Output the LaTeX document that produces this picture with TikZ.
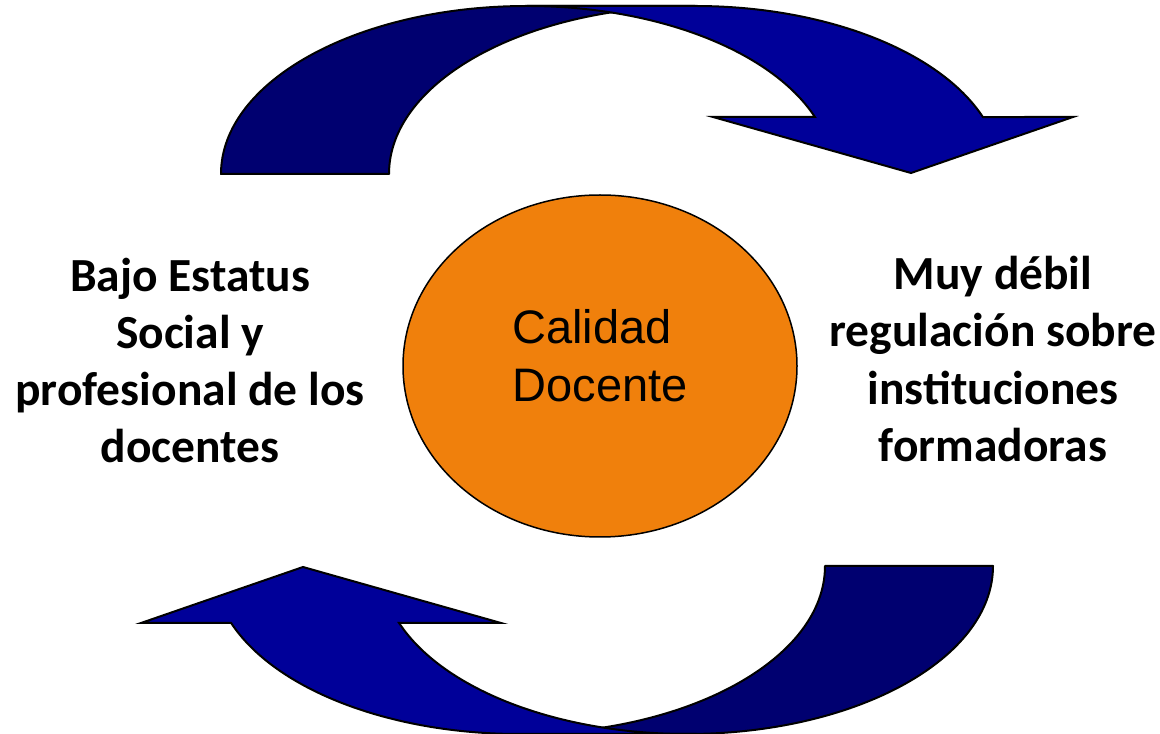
\documentclass[tikz,border=0pt]{standalone}
\usepackage{fontspec}
\setmainfont{Liberation Sans}
\newfontfamily\calfont{Carlito}
\usetikzlibrary{shapes.geometric}
\definecolor{backblue}{RGB}{0,0,112}
\definecolor{frontblue}{RGB}{0,0,153}
\definecolor{coreorange}{RGB}{240,128,12}
\tikzset{
  backband/.style={fill=backblue,draw=black,line width=2pt,line join=round},
  frontband/.style={fill=frontblue,draw=black,line width=2pt,line join=miter},
  sidetext/.style={align=center,inner sep=0pt,font=\calfont\bfseries\fontsize{47.5}{57.3}\selectfont},
  coreshape/.style={ellipse,draw=black,line width=1.5pt,fill=coreorange,minimum width=394pt,minimum height=342pt,inner sep=0pt},
  coretext/.style={align=left,inner sep=0pt,font=\fontsize{47}{58}\selectfont}
}
\newcommand{\curvedarrow}{%
  \path[backband] (221,560) arc[start angle=180,end angle=90,x radius=306,y radius=168]
     -- (695,728) arc[start angle=90,end angle=180,x radius=306,y radius=168] -- cycle;
  \path[frontband] (527,728) -- (695,728) arc[start angle=90,end angle=19.83,x radius=306,y radius=168]
     -- (1073,617) -- (911,561) -- (713,617) -- (814.9,617)
     arc[start angle=19.83,end angle=90,x radius=306,y radius=168] -- cycle;
}
\begin{document}
\begin{tikzpicture}[x=1pt,y=1pt]
\useasboundingbox (0,0) rectangle (1160,734);
% top arrow
\curvedarrow
% bottom arrow (rotated copy)
\begin{scope}[rotate around={180:(607,364)}]
\curvedarrow
\end{scope}
% centre
\node[coreshape] (core) at (600,368) {};
\node[coretext] (corelabel) at (600,378) {Calidad\\Docente};
% sides
\node[sidetext] (left) at (190,373.5) {Bajo Estatus\\Social y\\profesional de los\\docentes};
\node[sidetext] (right) at (993,375) {Muy débil\\regulación sobre\\instituciones\\formadoras};
\end{tikzpicture}
\end{document}
